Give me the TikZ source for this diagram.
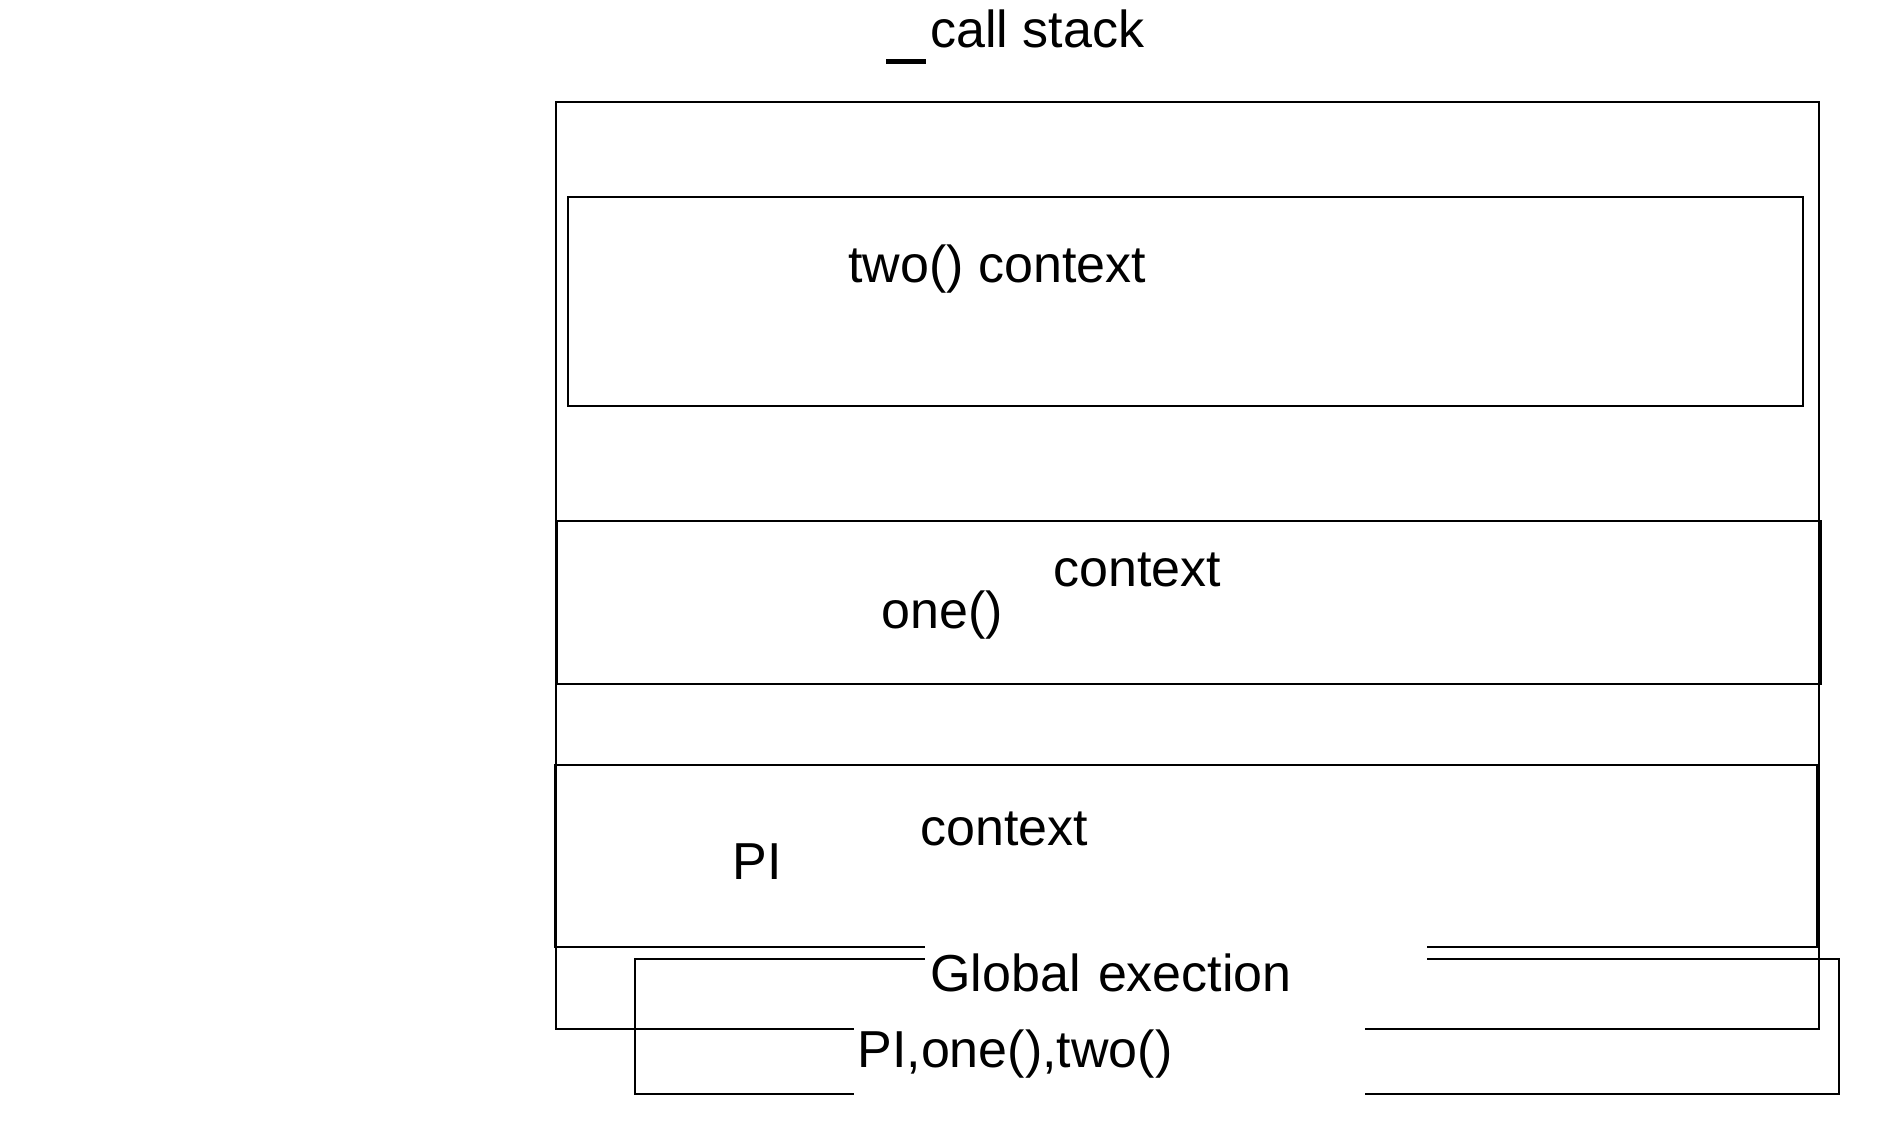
\documentclass[tikz,border=0pt]{standalone}
\usepackage{fontspec}
\setmainfont{Liberation Sans}
\usetikzlibrary{positioning}
\tikzset{%
  % Specifications for style of nodes:
	base/.style = {draw, line width=1pt, inner sep=0pt, outer sep=0pt, anchor=north west},
	stackbox/.style = {base},
	txt/.style = {anchor=base west, inner sep=0pt, font=\fontsize{26}{30}\selectfont},
	mask/.style = {txt, fill=white, align=left, text height=24pt, inner ysep=2pt}
}
\begin{document}
\begin{tikzpicture}[
    x=0.5pt, y=-0.5pt,          % one unit is one pixel of the sketch
]
  \useasboundingbox (0,0) rectangle (1896,1128);
  % Specification of the frames (top left corner, size)
  \node (stack) [stackbox, minimum width=631.5pt, minimum height=463.5pt] at (556,102) {};
  \node (twobox) [stackbox, minimum width=617.5pt, minimum height=104.5pt] at (568,197) {};
  \node (onebox) [stackbox, minimum width=632pt, minimum height=81.5pt] at (557,521) {};
  \node (pibox) [stackbox, minimum width=631pt, minimum height=91pt] at (555,765) {};
  \node (globalbox) [stackbox, minimum width=602pt, minimum height=67.5pt] at (635,959) {};

  % Texts
  \node (title) [txt, text height=19pt] at (886,48) {\rule[-8.25pt]{20pt}{2.5pt}\hspace{2pt}call stack};
  \node (twoctx) [txt] at (848,283) {two() context};
  \node (onectx) [txt] at (1053,587) {context};
  \node (onename) [txt] at (881,628) {one()};
  \node (pictx) [txt] at (920,845) {context};
  \node (piname) [txt] at (732,879) {PI};

  % white texts lying over the frame lines
  \node (globalname) [mask, inner xsep=2.5pt, text width=246pt, text depth=8pt] at (925,991) {Global exection};
  \node (globalvars) [mask, inner xsep=1.5pt, text width=252.5pt, text depth=16pt] at (854,1067) {PI,one(),two()};
\end{tikzpicture}
\end{document}
